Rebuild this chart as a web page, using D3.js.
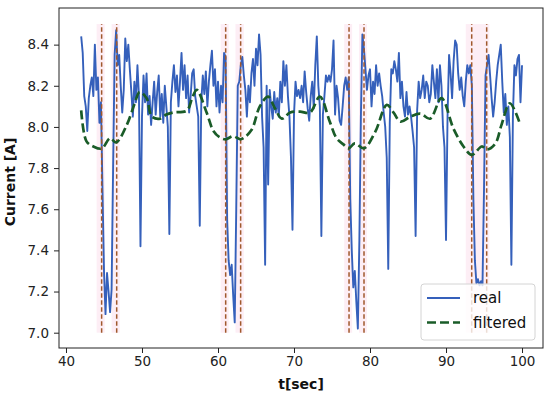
<!DOCTYPE html>
<html>
<head>
<meta charset="utf-8">
<script src="https://cdn.jsdelivr.net/npm/d3@7"></script>
<style>
  body { margin: 0; background: #fff; }
  svg { display: block; font-family: "DejaVu Sans", sans-serif; }
</style>
</head>
<body>
<svg id="chart" width="550" height="399"></svg>
<script>
// sample times of the measured current: 42.0 s, then every 0.2 s
const tStart = 42;
const tStep = 0.2;

// measured current [A], one row = 2 s
const realValues = [
  8.44, 8.36, 8.15, 8.10, 7.98, 8.14, 8.20, 8.24, 8.15, 8.40,
  8.18, 8.24, 8.02, 8.12, 7.70, 7.30, 7.09, 7.29, 7.20, 7.10,
  7.21, 7.80, 8.35, 8.47, 8.30, 8.35, 8.20, 8.07, 8.18, 8.43,
  8.32, 8.40, 8.28, 8.17, 8.05, 8.22, 8.12, 8.30, 8.15, 7.42,
  8.05, 8.25, 8.12, 8.26, 8.06, 8.15, 8.01, 8.12, 8.22, 8.06,
  8.17, 8.25, 8.05, 8.16, 8.02, 8.20, 8.10, 8.00, 7.48, 8.12,
  8.22, 8.30, 8.17, 8.25, 8.10, 8.22, 8.36, 8.18, 8.30, 8.14,
  8.25, 8.07, 8.15, 8.26, 8.28, 8.15, 8.10, 8.05, 7.52, 8.12,
  8.25, 8.16, 8.27, 8.10, 8.22, 8.30, 8.37, 8.20, 8.28, 8.10,
  8.22, 8.07, 8.20, 8.12, 8.36, 8.34, 7.55, 7.35, 7.28, 7.33,
  7.18, 7.05, 7.60, 8.20, 8.22, 8.30, 8.34, 8.25, 8.18, 8.05,
  8.20, 8.12, 8.26, 8.33, 8.20, 8.38, 8.30, 8.45, 8.35, 8.05,
  7.90, 7.33, 8.20, 7.72, 8.18, 8.10, 8.04, 8.17, 8.07, 8.14,
  8.05, 8.22, 8.12, 8.32, 8.20, 8.30, 8.15, 8.05, 7.85, 7.50,
  8.06, 8.22, 8.15, 8.18, 8.14, 8.20, 8.12, 8.27, 8.17, 8.09,
  8.03, 8.15, 8.22, 8.09, 8.30, 8.44, 8.20, 8.10, 7.47, 8.06,
  8.15, 8.25, 8.22, 8.25, 8.22, 8.28, 8.42, 8.06, 8.20, 8.14,
  8.03, 8.01, 8.10, 8.20, 8.24, 8.18, 8.24, 7.65, 7.40, 7.22,
  7.30, 7.15, 7.02, 7.45, 8.05, 8.45, 8.38, 8.28, 8.18, 8.25,
  8.28, 8.10, 8.22, 8.16, 8.30, 8.20, 8.26, 8.20, 8.15, 8.07,
  8.00, 7.85, 7.31, 8.02, 8.28, 8.26, 8.32, 8.28, 8.22, 8.36,
  8.14, 8.22, 8.10, 8.05, 8.17, 8.06, 8.10, 8.05, 7.98, 7.90,
  7.47, 8.08, 8.22, 8.14, 8.18, 8.25, 8.14, 8.22, 8.20, 8.12,
  8.16, 8.30, 8.22, 8.14, 8.28, 8.12, 8.30, 8.20, 8.00, 7.90,
  7.45, 8.05, 8.35, 8.26, 8.14, 8.32, 8.42, 8.40, 8.26, 8.18,
  8.24, 8.15, 8.10, 8.22, 8.30, 8.26, 8.30, 8.20, 7.65, 7.35,
  7.24, 7.26, 7.23, 7.25, 7.23, 7.70, 8.25, 8.30, 8.35, 8.25,
  8.14, 8.05, 8.12, 8.22, 8.30, 8.35, 8.40, 8.22, 8.07, 8.16,
  8.01, 8.10, 7.95, 7.33, 8.05, 8.30, 8.25, 8.33, 8.35, 8.12,
  8.30
];

// filtered current, read at these times
const filteredTimes = [42.0, 42.7, 43.6, 44.7, 45.8, 46.6, 48.0, 49.0, 49.7, 50.6,
  51.3, 52.4, 53.2, 54.1, 55.9, 56.6, 57.2, 58.5, 59.4, 60.2,
  61.0, 62.0, 63.0, 64.4, 65.5, 66.6, 67.5, 68.4, 69.5, 70.8,
  72.1, 73.4, 74.7, 75.6, 76.5, 77.2, 78.0, 79.2, 80.7, 82.2,
  83.1, 84.0, 85.3, 86.6, 87.9, 89.4, 91.0, 92.3, 93.4, 94.7,
  95.4, 96.5, 97.3, 98.4, 99.7];
const filteredValues = [8.08, 7.93, 7.905, 7.895, 7.945, 7.925, 8.01, 8.11, 8.17, 8.14,
  8.05, 8.04, 8.06, 8.07, 8.08, 8.14, 8.18, 8.07, 7.98, 7.95,
  7.94, 7.955, 7.94, 7.985, 8.10, 8.147, 8.09, 8.04, 8.07, 8.074,
  8.07, 8.147, 8.026, 7.945, 7.915, 7.896, 7.92, 7.896, 7.977, 8.107,
  8.07, 8.026, 8.05, 8.065, 8.04, 8.14, 7.99, 7.905, 7.864, 7.905,
  7.89, 7.92, 8.01, 8.115, 8.018];

// detected event boundaries [s] and the shaded bands round them
const eventLines = [44.69, 46.67, 61.01, 62.98, 77.24, 79.21, 93.38, 95.35];
const eventLow = 7.0, eventHigh = 8.5;
const shadeSpans = [[44.03, 45.09], [46.0, 47.07], [60.35, 61.41], [62.3, 63.4],
  [76.6, 77.65], [78.55, 79.6], [92.6, 95.7]];

const xTicks = [40, 50, 60, 70, 80, 90, 100];
const yTicks = [7.0, 7.2, 7.4, 7.6, 7.8, 8.0, 8.2, 8.4];
const legendLabels = ['real', 'filtered'];

const realColor = '#3560bb';
const filteredColor = '#1a5c28';
const eventColor = '#a0582c';

const plot = { left: 59, right: 543, top: 8, bottom: 348 };

const x = d3.scaleLinear().domain([39.08, 102.76]).range([plot.left, plot.right]);
const y = d3.scaleLinear().domain([6.9256, 8.578]).range([plot.bottom, plot.top]);

const svg = d3.select('#chart');

svg.append('defs').append('clipPath').attr('id', 'clip')
  .append('rect')
  .attr('x', plot.left).attr('y', plot.top)
  .attr('width', plot.right - plot.left).attr('height', plot.bottom - plot.top);

const g = svg.append('g').attr('clip-path', 'url(#clip)');

// pink bands
g.selectAll('rect.span')
  .data(shadeSpans)
  .join('rect')
  .attr('class', 'span')
  .attr('x', d => x(d[0]))
  .attr('width', d => x(d[1]) - x(d[0]))
  .attr('y', y(eventHigh))
  .attr('height', y(eventLow) - y(eventHigh))
  .attr('fill', '#fbe3ee')
  .attr('opacity', 0.6);

// real signal
const realData = realValues.map((v, i) => ({ t: tStart + i * tStep, v }));
const line = d3.line().x(d => x(d.t)).y(d => y(d.v));
g.append('path')
  .attr('d', line(realData))
  .attr('fill', 'none')
  .attr('stroke', realColor)
  .attr('stroke-width', 1.9)
  .attr('stroke-linejoin', 'round');

// event boundaries
g.selectAll('line.event')
  .data(eventLines)
  .join('line')
  .attr('class', 'event')
  .attr('x1', d => x(d)).attr('x2', d => x(d))
  .attr('y1', y(eventLow)).attr('y2', y(eventHigh))
  .attr('stroke', eventColor)
  .attr('stroke-width', 1.5)
  .attr('stroke-dasharray', '4.5,2.5');

// filtered signal
const filteredData = filteredTimes.map((t, i) => ({ t, v: filteredValues[i] }));
const smooth = d3.line().x(d => x(d.t)).y(d => y(d.v)).curve(d3.curveCatmullRom.alpha(0.5));
g.append('path')
  .attr('d', smooth(filteredData))
  .attr('fill', 'none')
  .attr('stroke', filteredColor)
  .attr('stroke-width', 2.7)
  .attr('stroke-dasharray', '9,4');

// axes
const xAxis = svg.append('g')
  .attr('transform', `translate(0,${plot.bottom})`)
  .call(d3.axisBottom(x).tickValues(xTicks).tickSize(5).tickPadding(3).tickFormat(d3.format('d')));
const yAxis = svg.append('g')
  .attr('transform', `translate(${plot.left},0)`)
  .call(d3.axisLeft(y).tickValues(yTicks).tickSize(5).tickPadding(5).tickFormat(d3.format('.1f')));

[xAxis, yAxis].forEach(ax => {
  ax.select('.domain').remove();
  ax.selectAll('line').attr('stroke', '#222').attr('stroke-width', 1);
  ax.selectAll('text')
    .attr('fill', '#222')
    .attr('font-size', '13.5px')
    .attr('font-family', '"DejaVu Sans", sans-serif');
});

svg.append('rect')
  .attr('x', plot.left).attr('y', plot.top)
  .attr('width', plot.right - plot.left).attr('height', plot.bottom - plot.top)
  .attr('fill', 'none')
  .attr('stroke', '#222')
  .attr('stroke-width', 1);

// axis titles
svg.append('text')
  .attr('x', (plot.left + plot.right) / 2)
  .attr('y', 389)
  .attr('text-anchor', 'middle')
  .attr('font-size', '14px')
  .attr('font-weight', 'bold')
  .attr('fill', '#111')
  .text('t[sec]');

svg.append('text')
  .attr('transform', `translate(15,182) rotate(-90)`)
  .attr('text-anchor', 'middle')
  .attr('font-size', '14px')
  .attr('font-weight', 'bold')
  .attr('fill', '#111')
  .text('Current [A]');

// legend
const legend = svg.append('g').attr('transform', 'translate(421,284)');
legend.append('rect')
  .attr('width', 114).attr('height', 56)
  .attr('rx', 3)
  .attr('fill', 'rgba(255,255,255,0.8)')
  .attr('stroke', '#d4d4d4');

const legendStyles = [
  { color: realColor, width: 1.9, dash: null },
  { color: filteredColor, width: 2.7, dash: '9,4' }
];
legendLabels.forEach((label, i) => {
  const row = legend.append('g').attr('transform', `translate(0,${14 + i * 24.5})`);
  row.append('line')
    .attr('x1', 6).attr('x2', 39)
    .attr('stroke', legendStyles[i].color)
    .attr('stroke-width', legendStyles[i].width)
    .attr('stroke-dasharray', legendStyles[i].dash);
  row.append('text')
    .attr('x', 52).attr('dy', '0.35em')
    .attr('font-size', '15px')
    .attr('fill', '#111')
    .text(label);
});
</script>
</body>
</html>
